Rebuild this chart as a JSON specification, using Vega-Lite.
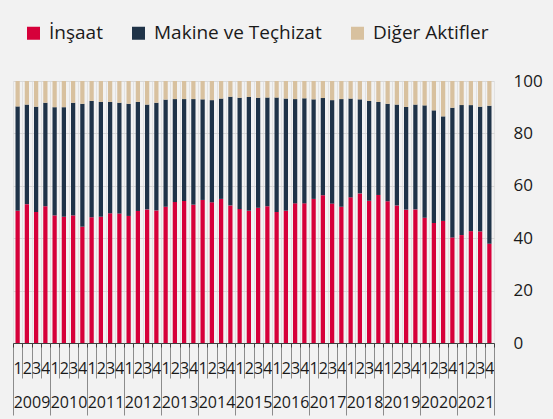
{
  "$schema": "https://vega.github.io/schema/vega-lite/v6.json",
  "width": 481,
  "height": 262,
  "autosize": "none",
  "padding": {"left": 13, "top": 81, "right": 59, "bottom": 76},
  "background": "#f2f2f2",
  "config": {"font": "Open Sans", "view": {"stroke": null}},
  "data": {"values": [
    {"p":"2009-1","yil":"2009","İnşaat":50.5,"Makine ve Teçhizat":39.8,"Diğer Aktifler":9.7},
    {"p":"2009-2","yil":"2009","İnşaat":53.0,"Makine ve Teçhizat":38.0,"Diğer Aktifler":9.0},
    {"p":"2009-3","yil":"2009","İnşaat":50.0,"Makine ve Teçhizat":40.2,"Diğer Aktifler":9.8},
    {"p":"2009-4","yil":"2009","İnşaat":52.2,"Makine ve Teçhizat":39.5,"Diğer Aktifler":8.3},
    {"p":"2010-1","yil":"2010","İnşaat":48.7,"Makine ve Teçhizat":41.3,"Diğer Aktifler":10.0},
    {"p":"2010-2","yil":"2010","İnşaat":48.2,"Makine ve Teçhizat":41.8,"Diğer Aktifler":10.0},
    {"p":"2010-3","yil":"2010","İnşaat":48.7,"Makine ve Teçhizat":43.0,"Diğer Aktifler":8.3},
    {"p":"2010-4","yil":"2010","İnşaat":44.4,"Makine ve Teçhizat":46.9,"Diğer Aktifler":8.7},
    {"p":"2011-1","yil":"2011","İnşaat":48.0,"Makine ve Teçhizat":44.4,"Diğer Aktifler":7.6},
    {"p":"2011-2","yil":"2011","İnşaat":48.2,"Makine ve Teçhizat":43.8,"Diğer Aktifler":8.0},
    {"p":"2011-3","yil":"2011","İnşaat":49.5,"Makine ve Teçhizat":42.5,"Diğer Aktifler":8.0},
    {"p":"2011-4","yil":"2011","İnşaat":49.4,"Makine ve Teçhizat":42.3,"Diğer Aktifler":8.3},
    {"p":"2012-1","yil":"2012","İnşaat":48.5,"Makine ve Teçhizat":42.8,"Diğer Aktifler":8.7},
    {"p":"2012-2","yil":"2012","İnşaat":50.4,"Makine ve Teçhizat":41.6,"Diğer Aktifler":8.0},
    {"p":"2012-3","yil":"2012","İnşaat":51.0,"Makine ve Teçhizat":40.0,"Diğer Aktifler":9.0},
    {"p":"2012-4","yil":"2012","İnşaat":50.6,"Makine ve Teçhizat":41.1,"Diğer Aktifler":8.3},
    {"p":"2013-1","yil":"2013","İnşaat":52.0,"Makine ve Teçhizat":40.9,"Diğer Aktifler":7.1},
    {"p":"2013-2","yil":"2013","İnşaat":53.8,"Makine ve Teçhizat":39.3,"Diğer Aktifler":6.9},
    {"p":"2013-3","yil":"2013","İnşaat":54.2,"Makine ve Teçhizat":38.9,"Diğer Aktifler":6.9},
    {"p":"2013-4","yil":"2013","İnşaat":52.8,"Makine ve Teçhizat":40.3,"Diğer Aktifler":6.9},
    {"p":"2014-1","yil":"2014","İnşaat":54.6,"Makine ve Teçhizat":38.4,"Diğer Aktifler":7.0},
    {"p":"2014-2","yil":"2014","İnşaat":53.7,"Makine ve Teçhizat":39.0,"Diğer Aktifler":7.3},
    {"p":"2014-3","yil":"2014","İnşaat":55.0,"Makine ve Teçhizat":38.3,"Diğer Aktifler":6.7},
    {"p":"2014-4","yil":"2014","İnşaat":52.5,"Makine ve Teçhizat":41.5,"Diğer Aktifler":6.0},
    {"p":"2015-1","yil":"2015","İnşaat":51.1,"Makine ve Teçhizat":42.5,"Diğer Aktifler":6.4},
    {"p":"2015-2","yil":"2015","İnşaat":50.5,"Makine ve Teçhizat":43.4,"Diğer Aktifler":6.1},
    {"p":"2015-3","yil":"2015","İnşaat":51.6,"Makine ve Teçhizat":42.0,"Diğer Aktifler":6.4},
    {"p":"2015-4","yil":"2015","İnşaat":52.2,"Makine ve Teçhizat":41.5,"Diğer Aktifler":6.3},
    {"p":"2016-1","yil":"2016","İnşaat":50.0,"Makine ve Teçhizat":43.7,"Diğer Aktifler":6.3},
    {"p":"2016-2","yil":"2016","İnşaat":50.5,"Makine ve Teçhizat":42.8,"Diğer Aktifler":6.7},
    {"p":"2016-3","yil":"2016","İnşaat":53.3,"Makine ve Teçhizat":39.8,"Diğer Aktifler":6.9},
    {"p":"2016-4","yil":"2016","İnşaat":53.3,"Makine ve Teçhizat":40.1,"Diğer Aktifler":6.6},
    {"p":"2017-1","yil":"2017","İnşaat":55.0,"Makine ve Teçhizat":38.0,"Diğer Aktifler":7.0},
    {"p":"2017-2","yil":"2017","İnşaat":56.4,"Makine ve Teçhizat":37.1,"Diğer Aktifler":6.5},
    {"p":"2017-3","yil":"2017","İnşaat":53.2,"Makine ve Teçhizat":39.5,"Diğer Aktifler":7.3},
    {"p":"2017-4","yil":"2017","İnşaat":52.0,"Makine ve Teçhizat":41.1,"Diğer Aktifler":6.9},
    {"p":"2018-1","yil":"2018","İnşaat":55.6,"Makine ve Teçhizat":37.7,"Diğer Aktifler":6.7},
    {"p":"2018-2","yil":"2018","İnşaat":57.1,"Makine ve Teçhizat":35.9,"Diğer Aktifler":7.0},
    {"p":"2018-3","yil":"2018","İnşaat":54.3,"Makine ve Teçhizat":38.1,"Diğer Aktifler":7.6},
    {"p":"2018-4","yil":"2018","İnşaat":56.5,"Makine ve Teçhizat":35.5,"Diğer Aktifler":8.0},
    {"p":"2019-1","yil":"2019","İnşaat":54.1,"Makine ve Teçhizat":37.2,"Diğer Aktifler":8.7},
    {"p":"2019-2","yil":"2019","İnşaat":52.5,"Makine ve Teçhizat":38.5,"Diğer Aktifler":9.0},
    {"p":"2019-3","yil":"2019","İnşaat":50.9,"Makine ve Teçhizat":39.2,"Diğer Aktifler":9.9},
    {"p":"2019-4","yil":"2019","İnşaat":51.0,"Makine ve Teçhizat":40.0,"Diğer Aktifler":9.0},
    {"p":"2020-1","yil":"2020","İnşaat":47.8,"Makine ve Teçhizat":42.9,"Diğer Aktifler":9.3},
    {"p":"2020-2","yil":"2020","İnşaat":45.8,"Makine ve Teçhizat":43.0,"Diğer Aktifler":11.2},
    {"p":"2020-3","yil":"2020","İnşaat":46.6,"Makine ve Teçhizat":39.9,"Diğer Aktifler":13.5},
    {"p":"2020-4","yil":"2020","İnşaat":40.3,"Makine ve Teçhizat":49.5,"Diğer Aktifler":10.2},
    {"p":"2021-1","yil":"2021","İnşaat":41.2,"Makine ve Teçhizat":49.6,"Diğer Aktifler":9.2},
    {"p":"2021-2","yil":"2021","İnşaat":42.7,"Makine ve Teçhizat":48.1,"Diğer Aktifler":9.2},
    {"p":"2021-3","yil":"2021","İnşaat":42.6,"Makine ve Teçhizat":47.6,"Diğer Aktifler":9.8},
    {"p":"2021-4","yil":"2021","İnşaat":37.9,"Makine ve Teçhizat":52.7,"Diğer Aktifler":9.4}
  ]},
  "transform": [
    {"fold": ["İnşaat", "Makine ve Teçhizat", "Diğer Aktifler"], "as": ["seri", "deger"]}
  ],
  "layer": [
    {
      "mark": {"type": "bar", "width": {"band": 0.46}},
      "encoding": {
        "x": {
          "field": "p", "type": "ordinal",
          "scale": {"paddingInner": 0, "paddingOuter": 0},
          "axis": {
            "orient": "bottom", "title": null, "tickBand": "extent",
            "labelExpr": "substring(datum.label, 5)",
            "labelFontSize": 16, "labelColor": "#1a1a1a", "labelAngle": 0,
            "labelPadding": -17.5, "labelOverlap": false,
            "tickSize": 35, "tickColor": "#8c8c8c", "tickWidth": 1,
            "domainColor": "#404040", "domainWidth": 1,
            "grid": true, "gridColor": "#e2e2e2", "gridWidth": 1
          }
        },
        "y": {
          "field": "deger", "type": "quantitative", "stack": "zero",
          "scale": {"domain": [0, 100], "nice": false},
          "axis": {
            "orient": "right", "title": null, "values": [0, 20, 40, 60, 80, 100],
            "domain": false, "ticks": false, "labelPadding": 19,
            "labelFontSize": 17, "labelColor": "#1a1a1a",
            "grid": true, "gridColor": "#d9d9d9", "gridWidth": 1
          }
        },
        "color": {
          "field": "seri", "type": "nominal",
          "scale": {
            "domain": ["İnşaat", "Makine ve Teçhizat", "Diğer Aktifler"],
            "range": ["#d6003a", "#1f3348", "#d8c19f"]
          },
          "legend": {
            "orient": "none", "legendX": 11, "legendY": -57.5,
            "direction": "horizontal", "columns": 3, "title": null,
            "symbolType": "square", "symbolSize": 169, "symbolStrokeWidth": 0,
            "symbolOpacity": 1, "labelFontSize": 19, "labelColor": "#1a1a1a",
            "labelOffset": 6, "labelLimit": 400, "columnPadding": 26, "padding": 0
          }
        },
        "order": {"field": "seri", "sort": "descending"}
      }
    },
    {
      "mark": {"type": "bar", "opacity": 0},
      "encoding": {
        "x": {
          "field": "yil", "type": "ordinal",
          "scale": {"type": "band", "paddingInner": 0, "paddingOuter": 0},
          "axis": {
            "orient": "bottom", "title": null, "domain": false, "grid": false,
            "tickBand": "extent", "tickSize": 72, "tickColor": "#8c8c8c", "tickWidth": 1,
            "labelPadding": -21, "labelFontSize": 16, "labelColor": "#1a1a1a",
            "labelAngle": 0, "labelOverlap": false
          }
        }
      }
    },
    {
      "mark": {"type": "bar", "opacity": 0},
      "encoding": {
        "x": {
          "field": "p", "type": "ordinal",
          "scale": {"type": "band", "paddingInner": 0, "paddingOuter": 0},
          "axis": {
            "orient": "bottom", "title": null, "domain": false, "grid": false,
            "labels": false, "tickBand": "extent", "tickSize": 4,
            "tickColor": "#404040", "tickWidth": 1
          }
        }
      }
    }
  ],
  "resolve": {"scale": {"x": "independent"}, "axis": {"x": "independent"}}
}
